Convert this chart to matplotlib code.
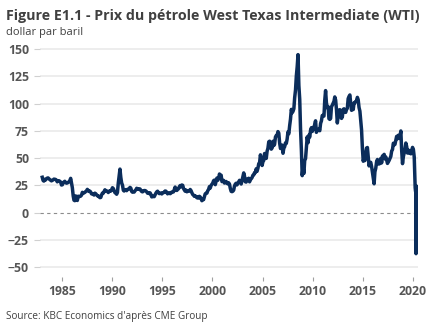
import numpy as np
import pandas as pd
import matplotlib
matplotlib.use("Agg")
import matplotlib.pyplot as plt
import matplotlib.dates as mdates

# Monthly WTI prices (USD/bbl)
prix_1983_1989 = [
    32.5, 29.5, 29.0, 30.6, 30.0, 31.0, 31.7, 31.9, 31.1, 30.4, 29.8, 29.2,
    29.7, 30.1, 30.8, 30.6, 30.5, 29.8, 28.3, 29.3, 29.3, 28.8, 28.1, 25.4,
    25.6, 27.3, 28.2, 28.8, 27.6, 27.1, 27.3, 27.8, 28.3, 29.5, 31.5, 27.2,
    22.9, 15.4, 11.5, 11.0, 15.4, 13.4, 11.2, 15.1, 14.9, 14.9, 15.2, 16.1,
    18.7, 17.7, 18.3, 18.6, 19.4, 20.0, 21.4, 20.3, 19.5, 19.8, 18.9, 17.3,
    17.1, 16.8, 16.2, 17.9, 17.4, 16.5, 15.5, 15.5, 14.5, 13.8, 14.0, 16.3,
    18.0, 17.9, 19.4, 21.0, 20.0, 20.0, 19.6, 18.5, 19.6, 20.1, 19.8, 21.1,
]
prix_1990_1999 = [
    22.9, 22.1, 20.4, 18.4, 18.2, 16.9, 18.6, 27.2, 33.7, 40.0, 32.3, 27.3,
    25.2, 20.5, 19.9, 20.8, 21.2, 20.2, 21.4, 21.7, 21.9, 23.2, 22.5, 19.5,
    18.8, 19.0, 18.9, 20.2, 20.9, 22.4, 21.8, 21.4, 21.9, 21.7, 20.3, 19.4,
    19.1, 20.1, 20.3, 20.3, 19.9, 19.1, 17.9, 18.0, 17.5, 18.2, 16.7, 14.5,
    15.0, 14.8, 14.7, 16.4, 17.9, 19.1, 19.7, 18.4, 17.5, 17.7, 18.1, 17.2,
    18.0, 18.5, 18.6, 19.9, 19.7, 18.4, 17.3, 18.0, 18.2, 17.4, 18.0, 19.0,
    18.9, 19.1, 21.3, 23.5, 21.2, 20.4, 21.3, 21.9, 23.9, 24.9, 23.7, 25.4,
    25.1, 22.2, 20.9, 19.7, 20.8, 19.2, 19.6, 19.9, 19.8, 21.3, 20.2, 18.3,
    16.7, 16.1, 15.0, 15.4, 14.9, 13.7, 14.2, 13.4, 15.0, 14.4, 12.9, 11.0,
    12.5, 12.0, 14.7, 17.3, 17.8, 17.9, 20.1, 21.3, 23.9, 22.6, 25.0, 26.1,
]
prix_2000_2009 = [
    27.2, 29.4, 29.9, 25.7, 28.8, 31.8, 29.7, 31.2, 35.5, 33.1, 34.4, 28.5,
    29.6, 29.6, 27.2, 27.4, 28.6, 27.6, 26.4, 27.4, 26.2, 22.2, 19.6, 19.3,
    19.7, 20.7, 24.4, 26.2, 27.0, 25.5, 26.9, 28.4, 29.7, 28.9, 26.3, 29.4,
    32.9, 36.5, 33.6, 28.3, 28.1, 30.7, 30.8, 31.6, 28.3, 30.3, 31.1, 32.2,
    34.3, 34.7, 36.7, 36.7, 40.3, 38.0, 40.7, 44.9, 45.9, 53.1, 48.5, 43.3,
    46.8, 48.0, 54.3, 53.0, 49.8, 56.4, 59.0, 65.0, 65.6, 62.4, 58.3, 59.4,
    65.5, 61.6, 62.7, 69.4, 70.8, 70.9, 74.4, 73.0, 63.8, 58.9, 59.1, 62.0,
    54.5, 59.3, 60.4, 64.0, 63.5, 67.5, 74.1, 72.4, 79.9, 85.8, 94.8, 91.7,
    93.0, 95.4, 105.5, 112.6, 125.4, 133.9, 145.0, 116.7, 104.1, 76.6, 57.3, 34.0,
    41.7, 36.0, 47.9, 49.6, 59.0, 69.6, 64.2, 71.1, 69.4, 75.7, 78.0, 74.5,
]
prix_2010_2019 = [
    78.3, 76.4, 81.2, 84.3, 73.7, 75.3, 76.3, 76.6, 75.2, 81.9, 84.3, 89.2,
    89.2, 88.6, 102.9, 112.0, 100.9, 96.3, 97.3, 86.3, 85.6, 86.4, 97.2, 98.6,
    100.3, 102.2, 106.2, 103.3, 94.7, 82.3, 87.9, 94.1, 94.5, 89.5, 86.5, 87.9,
    94.8, 95.3, 92.9, 92.0, 94.5, 95.8, 104.6, 106.6, 108.0, 100.5, 93.9, 97.6,
    94.6, 100.8, 100.8, 102.1, 102.2, 105.8, 103.6, 96.5, 93.2, 84.4, 75.8, 59.3,
    47.2, 50.6, 47.8, 54.5, 59.3, 59.8, 50.9, 42.9, 45.5, 46.2, 42.4, 37.2,
    31.7, 26.5, 37.5, 40.8, 46.7, 48.8, 44.7, 44.7, 45.2, 49.8, 45.7, 52.0,
    52.5, 53.5, 49.3, 51.1, 48.5, 45.2, 46.6, 48.0, 49.8, 51.6, 56.6, 57.9,
    63.7, 62.2, 62.7, 66.3, 70.0, 67.9, 71.0, 68.1, 70.2, 75.0, 57.0, 45.0,
    51.4, 55.0, 58.2, 63.9, 60.8, 54.7, 57.4, 54.8, 57.0, 54.0, 57.0, 59.9,
]
dates_2020 = ["2020-01-15", "2020-02-15", "2020-03-09", "2020-03-20", "2020-04-01",
              "2020-04-17", "2020-04-20", "2020-04-28", "2020-05-06"]
prix_2020 = [58.0, 51.0, 32.0, 23.0, 20.0, 18.0, -37.6, 12.0, 24.0]

y_ticks = [-50, -25, 0, 25, 50, 75, 100, 125, 150]
x_tick_years = [1985, 1990, 1995, 2000, 2005, 2010, 2015, 2020]

monthly = prix_1983_1989 + prix_1990_1999 + prix_2000_2009 + prix_2010_2019
dates_m = pd.date_range("1983-01-01", periods=len(monthly), freq="MS") + pd.Timedelta(days=14)
dates = list(dates_m) + list(pd.to_datetime(dates_2020))
values = monthly + prix_2020

plt.rcParams['font.family'] = ['Open Sans', 'DejaVu Sans']

W, H = 434, 334
fig = plt.figure(figsize=(W / 100, H / 100), dpi=100)
ax = fig.add_axes([40 / W, 1 - 277 / H, (418 - 40) / W, (277 - 47) / H])

navy = "#0b2d5b"
ax.plot(dates, values, color=navy, lw=2.5, solid_joinstyle="round", zorder=3)
ax.axhline(0, color="#8c8c8c", lw=0.8, ls=(0, (3, 3)), zorder=2)

ax.set_ylim(-59, 152)
ax.set_xlim(pd.Timestamp("1982-10-25"), pd.Timestamp("2020-07-01"))
ax.set_yticks(y_ticks)
ax.set_xticks([pd.Timestamp(f"{y}-01-01") for y in x_tick_years])
ax.set_xticklabels([str(y) for y in x_tick_years])
for yv in y_ticks:
    if yv != 0:
        ax.axhline(yv, color="#ececec", lw=1.3, zorder=1)

for s in ax.spines.values():
    s.set_visible(False)
ax.tick_params(axis="y", length=4, width=0.8, color="#d0d0d0", pad=4,
               labelsize=8.8, labelcolor="#555555")
ax.tick_params(axis="x", length=3, width=0.8, color="#a0a0a0", pad=3,
               labelsize=8.8, labelcolor="#555555")
for lab in ax.get_xticklabels() + ax.get_yticklabels():
    lab.set_fontweight("bold")

fig.text(6 / W, 1 - 9 / H, "Figure E1.1 - Prix du pétrole West Texas Intermediate (WTI)",
         fontsize=10.3, fontweight="bold", color="#404040", va="top", ha="left")
fig.text(6 / W, 1 - 27 / H, "dollar par baril", fontsize=8, color="#404040",
         va="top", ha="left")
fig.text(6 / W, 1 - 311 / H, "Source: KBC Economics d'après CME Group", fontsize=7.2,
         color="#404040", va="top", ha="left")

fig.savefig("out.png", dpi=100)
